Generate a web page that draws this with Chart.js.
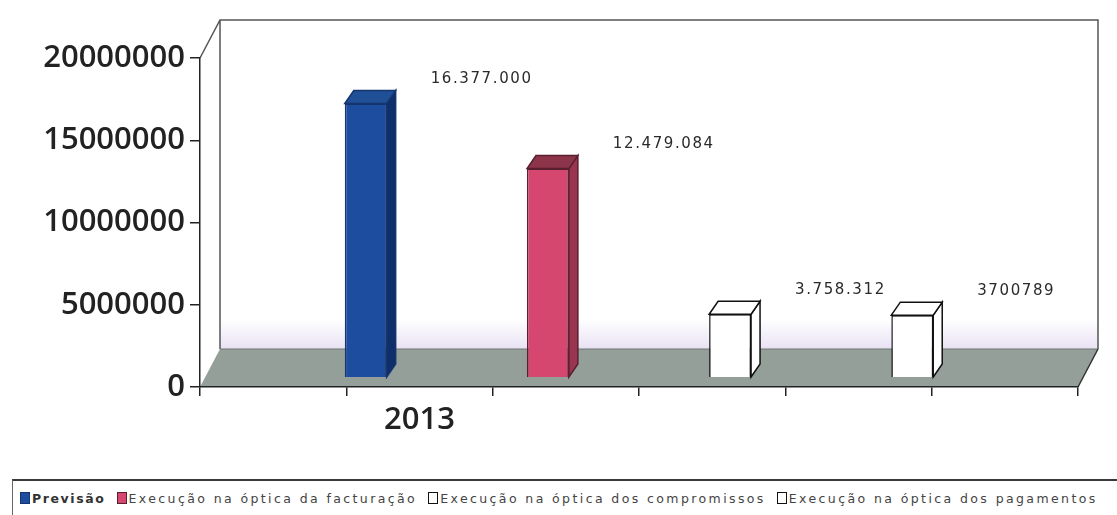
<!DOCTYPE html>
<html lang="pt">
<head>
    <meta charset="UTF-8">
    <title>Execução orçamental 2013</title>
    <script src="https://cdn.jsdelivr.net/npm/chart.js"></script>
    <style>
        body { margin: 0; background: #fff; font-family: "DejaVu Sans", sans-serif; }
        .wrap { position: relative; width: 1117px; height: 515px; overflow: hidden; }
        #chart { position: absolute; left: 0; top: 0; }
        #legend {
            position: absolute; left: 12px; top: 479px; right: -40px; height: 50px;
            border-top: 2px solid #3a3a3a; border-left: 1px solid #666;
            display: flex; align-items: center; padding: 0 0 14px 7px; box-sizing: border-box;
            font-size: 12.5px; letter-spacing: 2.4px; color: #444; white-space: nowrap;
        }
        #legend .item { display: flex; align-items: center; margin-right: 11px; }
        #legend .box { width: 10px; height: 12px; margin-right: 2px; box-sizing: border-box; border: 1.5px solid #222; }
        #legend .item:first-child span { font-weight: bold; color: #333; letter-spacing: 1.6px; }
    </style>
</head>
<body>

<div class="wrap">
    <canvas id="chart" width="1117" height="470"></canvas>
    <div id="legend"></div>
</div>

<script>
    const categories = ['2013'];
    const seriesNames = [
        'Previsão',
        'Execução na óptica da facturação',
        'Execução na óptica dos compromissos',
        'Execução na óptica dos pagamentos'
    ];
    const seriesValues = [16377000, 12479084, 3758312, 3700789];
    const valueLabels = ['16.377.000', '12.479.084', '3.758.312', '3700789'];
    const yTicks = [0, 5000000, 10000000, 15000000, 20000000];
    const xTickLabels = ['', '2013', '', '', '', ''];

    // front, top and side colours of each bar
    const faceColors = ['#1c4d9e', '#d64770', '#ffffff', '#ffffff'];
    const topColors = ['#1f4f96', '#8c3449', '#ffffff', '#ffffff'];
    const sideColors = ['#0f2f6a', '#9a3550', '#ffffff', '#ffffff'];
    const edgeColors = ['#16356e', '#5a1f2e', '#111111', '#111111'];

    // depth of the walls and of the bars
    const wallDx = 20, wallDy = -38;
    const barDx = 9, barDy = -13;

    const box3d = {
        id: 'box3d',
        beforeDraw(chart) {
            const ctx = chart.ctx;
            const a = chart.chartArea;
            ctx.save();

            // back wall
            const bt = a.top + wallDy, bb = a.bottom + wallDy;
            const bl = a.left + wallDx, br = a.right + wallDx;
            const band = ctx.createLinearGradient(0, bb - 30, 0, bb);
            band.addColorStop(0, 'rgba(225,215,240,0)');
            band.addColorStop(1, 'rgba(222,212,238,0.7)');
            ctx.fillStyle = band;
            ctx.fillRect(bl, bb - 30, br - bl, 30);

            ctx.strokeStyle = '#555';
            ctx.lineWidth = 1.5;
            ctx.beginPath();
            ctx.moveTo(a.left, a.top);
            ctx.lineTo(bl, bt);
            ctx.lineTo(br, bt);
            ctx.lineTo(br, bb);
            ctx.moveTo(bl, bt);
            ctx.lineTo(bl, bb);
            ctx.stroke();

            // floor
            ctx.fillStyle = '#949f99';
            ctx.beginPath();
            ctx.moveTo(a.left, a.bottom);
            ctx.lineTo(bl, bb);
            ctx.lineTo(br, bb);
            ctx.lineTo(a.right, a.bottom);
            ctx.closePath();
            ctx.fill();
            ctx.strokeStyle = '#6f7772';
            ctx.lineWidth = 1;
            ctx.beginPath();
            ctx.moveTo(bl, bb);
            ctx.lineTo(br, bb);
            ctx.stroke();
            ctx.strokeStyle = '#333';
            ctx.lineWidth = 1.5;
            ctx.beginPath();
            ctx.moveTo(a.right, a.bottom);
            ctx.lineTo(br, bb);
            ctx.stroke();
            ctx.restore();
        },
        afterDatasetsDraw(chart) {
            const ctx = chart.ctx;
            ctx.save();
            chart.data.datasets.forEach((ds, i) => {
                const bar = chart.getDatasetMeta(i).data[0];
                const { x, y, width, base } = bar.getProps(['x', 'y', 'width', 'base'], true);
                const l = x - width / 2, r = x + width / 2;
                ctx.lineWidth = 1.5;
                ctx.strokeStyle = edgeColors[i];

                ctx.fillStyle = sideColors[i];
                ctx.beginPath();
                ctx.moveTo(r, y);
                ctx.lineTo(r + barDx, y + barDy);
                ctx.lineTo(r + barDx, base + barDy);
                ctx.lineTo(r, base);
                ctx.closePath();
                ctx.fill();
                ctx.stroke();

                ctx.fillStyle = topColors[i];
                ctx.beginPath();
                ctx.moveTo(l, y);
                ctx.lineTo(l + barDx, y + barDy);
                ctx.lineTo(r + barDx, y + barDy);
                ctx.lineTo(r, y);
                ctx.closePath();
                ctx.fill();
                ctx.stroke();

                // value label
                ctx.fillStyle = '#2a2a2a';
                ctx.font = '15px "DejaVu Sans"';
                ctx.letterSpacing = '1.6px';
                ctx.textAlign = 'left';
                ctx.textBaseline = 'middle';
                ctx.fillText(valueLabels[i], r + 44, y - 24);
            });
            ctx.restore();
        }
    };

    const tickFont = { family: 'Open Sans', size: 31, weight: '600' };

    const chart = new Chart(document.getElementById('chart'), {
        type: 'bar',
        data: {
            labels: categories,
            datasets: seriesNames.map((name, i) => ({
                label: name,
                data: [seriesValues[i]],
                backgroundColor: faceColors[i],
                borderColor: edgeColors[i],
                borderWidth: 1.5,
                xAxisID: 'xBars',
                yAxisID: 'yBars',
                categoryPercentage: 0.83,
                barPercentage: 0.23
            }))
        },
        options: {
            responsive: false,
            animation: false,
            layout: { padding: { left: 0, top: 58, right: 39, bottom: 0 } },
            plugins: { legend: { display: false }, tooltip: { enabled: false } },
            scales: {
                x: {
                    type: 'category',
                    labels: xTickLabels,
                    offset: true,
                    grid: { offset: true, drawOnChartArea: false, tickLength: 9, color: '#222', lineWidth: 1.5 },
                    border: { color: '#222', width: 1.5 },
                    ticks: { font: tickFont, color: '#222', padding: 6, maxRotation: 0, autoSkip: false },
                    afterFit: s => { s.height = 83; }
                },
                xBars: { type: 'category', display: false, offset: true },
                y: {
                    min: 0,
                    max: 20000000,
                    afterBuildTicks: s => { s.ticks = yTicks.map(v => ({ value: v })); },
                    grid: { drawOnChartArea: false, tickLength: 10, color: '#222', lineWidth: 1.5 },
                    border: { color: '#222', width: 1.5 },
                    ticks: { font: tickFont, color: '#222', padding: 5, callback: v => String(v) },
                    afterFit: s => { s.width = 200; }
                },
                yBars: { display: false, min: -600000, max: 19100000 }
            }
        },
        plugins: [box3d]
    });

    // legend built from the datasets
    const legend = document.getElementById('legend');
    chart.data.datasets.forEach(ds => {
        const item = document.createElement('div');
        item.className = 'item';
        item.innerHTML = `<div class="box" style="background:${ds.backgroundColor};border-color:${ds.borderColor}"></div><span>${ds.label}</span>`;
        legend.appendChild(item);
    });
</script>

</body>
</html>
